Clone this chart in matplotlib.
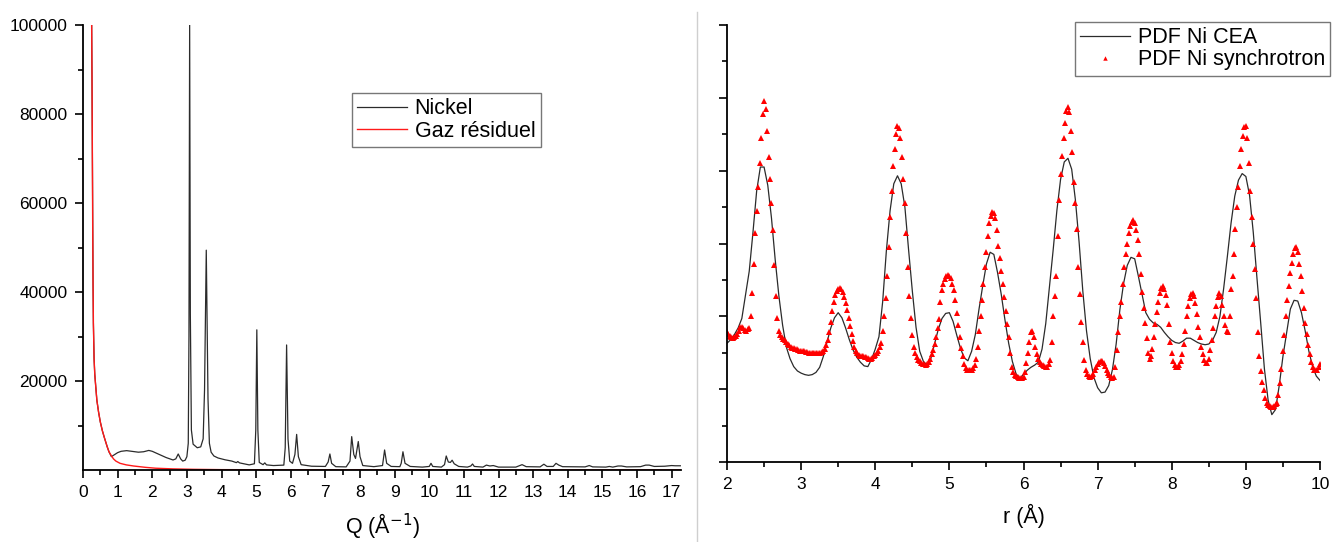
import matplotlib
matplotlib.use("Agg")
import matplotlib.pyplot as plt
from matplotlib.lines import Line2D
from matplotlib.ticker import MultipleLocator, NullFormatter, FixedLocator
import numpy as np

plt.rcParams['font.family'] = ['Liberation Sans', 'DejaVu Sans']

# ---- left panel: raw diffraction, Nickel vs residual gas ----
nickel_q = [0.25, 0.26, 0.27, 0.28, 0.29, 0.30, 0.32, 0.34, 0.36, 0.40,
            0.45, 0.50, 0.56, 0.62, 0.70, 0.75, 0.82, 0.90, 1.00, 1.10,
            1.26, 1.40, 1.60, 1.75, 1.90, 2.00, 2.23, 2.40, 2.60, 2.68,
            2.75, 2.82, 2.88, 2.95, 3.00, 3.04, 3.06, 3.08, 3.10, 3.13,
            3.18, 3.30, 3.40, 3.47, 3.51, 3.56, 3.61, 3.65, 3.70, 3.78,
            3.90, 4.10, 4.30, 4.43, 4.47, 4.52, 4.80, 4.95, 4.99, 5.02,
            5.05, 5.09, 5.20, 5.25, 5.30, 5.50, 5.80, 5.84, 5.88, 5.92,
            5.97, 6.05, 6.12, 6.17, 6.22, 6.30, 6.60, 7.00, 7.08, 7.13,
            7.18, 7.30, 7.60, 7.71, 7.76, 7.82, 7.87, 7.91, 7.95, 8.00,
            8.08, 8.40, 8.65, 8.71, 8.77, 8.90, 9.15, 9.19, 9.24, 9.30,
            9.45, 9.80, 10.00, 10.05, 10.10, 10.35, 10.44, 10.49, 10.55, 10.61,
            10.66, 10.72, 10.85, 11.10, 11.20, 11.25, 11.30, 11.55, 11.65, 11.75,
            11.85, 12.00, 12.50, 12.68, 12.80, 13.20, 13.31, 13.40, 13.58, 13.66,
            13.74, 13.85, 14.50, 14.62, 14.72, 15.10, 15.20, 15.30, 15.45, 15.55,
            15.70, 16.10, 16.25, 16.35, 16.50, 16.80, 17.00, 17.10, 17.25]
nickel_i = [100000, 88000, 72000, 55000, 42000, 33000, 25000, 21500, 19500, 15700,
            13000, 10800, 8800, 7200, 5200, 4100, 3000, 3400, 3900, 4200,
            4350, 4200, 4000, 4100, 4400, 4200, 3400, 2800, 2250, 2500,
            3600, 2500, 2000, 2200, 3000, 6000, 30000, 100000, 35000, 9000,
            5800, 5000, 5200, 7000, 18000, 49400, 16000, 6000, 4000, 3150,
            2700, 2300, 2000, 1650, 1900, 1600, 1150, 1400, 9000, 31500,
            9000, 1700, 1200, 1600, 1150, 1000, 1100, 5000, 28100, 7000,
            2000, 1500, 3500, 8000, 3000, 1200, 850, 800, 1800, 3600,
            1500, 750, 700, 2000, 7500, 3500, 2600, 4500, 6400, 3000,
            1000, 750, 1000, 4500, 1500, 800, 750, 1500, 4100, 1500,
            800, 650, 800, 1500, 800, 650, 1200, 3150, 1800, 1700,
            2200, 1400, 800, 650, 900, 1350, 800, 650, 1100, 900,
            1000, 650, 650, 1200, 750, 700, 1300, 800, 800, 1500,
            1100, 750, 700, 1000, 700, 650, 800, 650, 900, 900,
            700, 750, 1100, 1100, 800, 850, 1000, 950, 950]

gas_q = [0.25, 0.26, 0.27, 0.28, 0.29, 0.30, 0.32, 0.34, 0.36, 0.40,
         0.45, 0.50, 0.56, 0.62, 0.70, 0.75, 0.82, 0.88, 0.95, 1.07,
         1.25, 1.46, 1.80, 2.10, 2.60, 3.20, 4.00, 6.00, 10.00, 17.25]
gas_i = [100000, 88000, 72000, 55000, 42000, 33000, 25000, 21500, 19500, 15700,
         13000, 10800, 8800, 7200, 5200, 4100, 3200, 2500, 2000, 1500,
         1150, 900, 600, 400, 250, 150, 80, 40, 20, 20]

# ---- right panel: PDF G(r) ----
r_cea = np.linspace(2.0, 10.0, 161)   # 0.05 A sampling
g_cea = [1.63, 1.68, 1.75, 1.84, 1.97, 2.30, 2.62, 3.15, 3.72, 4.05,
         4.05, 3.80, 3.35, 2.78, 2.28, 1.88, 1.58, 1.42, 1.31, 1.25,
         1.22, 1.20, 1.19, 1.20, 1.23, 1.30, 1.45, 1.65, 1.84, 1.98,
         2.05, 1.98, 1.84, 1.68, 1.54, 1.44, 1.37, 1.32, 1.31, 1.41,
         1.55, 1.72, 2.20, 2.90, 3.45, 3.82, 3.93, 3.82, 3.50, 2.91,
         2.35, 1.85, 1.52, 1.38, 1.33, 1.42, 1.62, 1.82, 1.97, 2.04,
         2.05, 1.93, 1.74, 1.56, 1.43, 1.39, 1.52, 1.75, 2.10, 2.42,
         2.72, 2.88, 2.85, 2.60, 2.30, 1.95, 1.63, 1.38, 1.21, 1.15,
         1.20, 1.26, 1.30, 1.33, 1.37, 1.55, 1.90, 2.40, 2.91, 3.45,
         3.88, 4.12, 4.17, 4.02, 3.60, 3.02, 2.35, 1.80, 1.42, 1.16,
         1.02, 0.95, 0.96, 1.05, 1.27, 1.62, 2.09, 2.45, 2.70, 2.81,
         2.79, 2.55, 2.30, 2.05, 1.96, 1.91, 1.89, 1.85, 1.78, 1.72,
         1.67, 1.64, 1.63, 1.66, 1.70, 1.70, 1.67, 1.64, 1.62, 1.61,
         1.62, 1.67, 1.78, 2.00, 2.38, 2.82, 3.28, 3.65, 3.87, 3.96,
         3.92, 3.66, 3.15, 2.52, 1.91, 1.28, 0.85, 0.65, 0.72, 1.05,
         1.45, 1.78, 2.10, 2.22, 2.21, 2.05, 1.80, 1.52, 1.31, 1.18,
         1.12]

r_sync = np.linspace(2.0, 10.0, 401)  # 0.02 A sampling
g_sync = [1.79, 1.76, 1.73, 1.71, 1.70, 1.71, 1.73, 1.76, 1.80, 1.85,
          1.86, 1.84, 1.81, 1.80, 1.82, 1.84, 2.00, 2.32, 2.72, 3.14,
          3.45, 3.78, 4.10, 4.45, 4.78, 4.95, 4.85, 4.55, 4.19, 3.88,
          3.55, 3.18, 2.70, 2.28, 1.98, 1.80, 1.75, 1.72, 1.69, 1.67,
          1.65, 1.62, 1.60, 1.58, 1.57, 1.56, 1.55, 1.55, 1.54, 1.53,
          1.53, 1.52, 1.52, 1.51, 1.51, 1.50, 1.50, 1.49, 1.49, 1.49,
          1.49, 1.49, 1.50, 1.50, 1.51, 1.52, 1.55, 1.60, 1.67, 1.78,
          1.92, 2.08, 2.20, 2.29, 2.35, 2.38, 2.39, 2.38, 2.33, 2.26,
          2.18, 2.09, 1.98, 1.87, 1.76, 1.66, 1.58, 1.52, 1.49, 1.47,
          1.46, 1.45, 1.45, 1.44, 1.44, 1.43, 1.42, 1.42, 1.43, 1.45,
          1.47, 1.49, 1.53, 1.58, 1.63, 1.80, 2.00, 2.25, 2.55, 2.95,
          3.37, 3.72, 4.06, 4.30, 4.50, 4.61, 4.58, 4.45, 4.19, 3.88,
          3.55, 3.15, 2.68, 2.28, 1.98, 1.75, 1.58, 1.50, 1.44, 1.40,
          1.38, 1.36, 1.35, 1.34, 1.33, 1.34, 1.37, 1.42, 1.48, 1.54,
          1.62, 1.72, 1.84, 1.97, 2.20, 2.36, 2.45, 2.51, 2.55, 2.57,
          2.56, 2.52, 2.45, 2.36, 2.22, 2.05, 1.88, 1.72, 1.57, 1.45,
          1.35, 1.29, 1.27, 1.26, 1.26, 1.27, 1.29, 1.33, 1.42, 1.58,
          1.80, 2.00, 2.22, 2.45, 2.68, 2.88, 3.10, 3.28, 3.38, 3.43,
          3.42, 3.35, 3.18, 2.96, 2.80, 2.62, 2.45, 2.27, 2.08, 1.90,
          1.72, 1.50, 1.31, 1.24, 1.20, 1.18, 1.17, 1.16, 1.16, 1.16,
          1.17, 1.24, 1.36, 1.50, 1.65, 1.78, 1.80, 1.72, 1.58, 1.48,
          1.41, 1.37, 1.34, 1.33, 1.32, 1.31, 1.31, 1.34, 1.40, 1.65,
          2.00, 2.28, 2.55, 3.10, 3.60, 3.95, 4.20, 4.45, 4.65, 4.82,
          4.88, 4.80, 4.55, 4.25, 3.85, 3.55, 3.20, 2.68, 2.30, 1.92,
          1.65, 1.40, 1.27, 1.21, 1.18, 1.17, 1.18, 1.21, 1.26, 1.31,
          1.35, 1.37, 1.38, 1.38, 1.36, 1.32, 1.27, 1.22, 1.19, 1.17,
          1.15, 1.17, 1.30, 1.54, 1.78, 2.00, 2.20, 2.45, 2.68, 2.86,
          3.00, 3.14, 3.24, 3.30, 3.32, 3.28, 3.18, 3.05, 2.85, 2.58,
          2.33, 2.12, 1.91, 1.70, 1.50, 1.42, 1.45, 1.55, 1.72, 1.90,
          2.06, 2.20, 2.32, 2.39, 2.41, 2.38, 2.29, 2.15, 1.90, 1.65,
          1.50, 1.38, 1.33, 1.31, 1.31, 1.33, 1.38, 1.48, 1.62, 1.80,
          2.00, 2.14, 2.25, 2.31, 2.32, 2.28, 2.18, 2.03, 1.86, 1.72,
          1.58, 1.48, 1.40, 1.36, 1.36, 1.42, 1.54, 1.68, 1.84, 2.00,
          2.14, 2.26, 2.32, 2.28, 2.15, 2.00, 1.88, 1.80, 1.79, 2.00,
          2.38, 2.55, 2.85, 3.20, 3.50, 3.78, 4.06, 4.30, 4.48, 4.60,
          4.62, 4.45, 4.10, 3.72, 3.37, 3.00, 2.65, 2.25, 1.78, 1.45,
          1.25, 1.10, 0.99, 0.88, 0.81, 0.78, 0.77, 0.76, 0.76, 0.77,
          0.79, 0.81, 0.92, 1.08, 1.28, 1.52, 1.75, 2.00, 2.23, 2.42,
          2.60, 2.73, 2.85, 2.94, 2.95, 2.88, 2.72, 2.55, 2.35, 2.12,
          1.91, 1.76, 1.61, 1.48, 1.37, 1.31, 1.27, 1.26, 1.27, 1.30,
          1.34]

W, H = 1333, 542
fig = plt.figure(figsize=(W / 100, H / 100), dpi=100)

ax1 = fig.add_axes([83 / W, 1 - 470 / H, (681 - 83) / W, (470 - 25) / H])
ax2 = fig.add_axes([727 / W, 1 - 462 / H, (1320 - 727) / W, (462 - 25) / H])

for ax in (ax1, ax2):
    ax.spines['top'].set_visible(False)
    ax.spines['right'].set_visible(False)
    ax.spines['left'].set_linewidth(1.3)
    ax.spines['bottom'].set_linewidth(1.3)
    ax.tick_params(which='major', direction='out', length=6, width=1.2,
                   labelsize=12.5, pad=5)
    ax.tick_params(which='minor', direction='out', length=3.5, width=1.2)

# left
ax1.plot(nickel_q, nickel_i, color='#2b2b2b', lw=0.9, label='Nickel')
ax1.plot(gas_q, gas_i, color='#ff1a1a', lw=1.0, label='Gaz résiduel')
ax1.set_xlim(0, 17.27)
ax1.set_ylim(0, 100000)
ax1.xaxis.set_major_locator(MultipleLocator(1))
ax1.xaxis.set_minor_locator(MultipleLocator(0.5))
ax1.yaxis.set_major_locator(FixedLocator([20000, 40000, 60000, 80000, 100000]))
ax1.yaxis.set_minor_locator(FixedLocator([10000, 30000, 50000, 70000, 90000]))
ax1.set_xlabel('Q (Å$^{-1}$)', fontsize=15.5, labelpad=8)
leg1 = ax1.legend(loc='upper left', bbox_to_anchor=(0.45, 0.847), borderaxespad=0,
                  fontsize=15.5, frameon=True, fancybox=False, handlelength=2.3,
                  handletextpad=0.35, borderpad=0.25, labelspacing=0.05)
leg1.get_frame().set_edgecolor('#555555')
leg1.get_frame().set_linewidth(1.0)

# right
ax2.plot(r_cea, g_cea, color='#2b2b2b', lw=0.9, label='PDF Ni CEA')
ax2.plot(r_sync, g_sync, linestyle='none', marker='^', ms=4.0, mew=0,
         color='#ff0000', label='PDF Ni synchrotron')
ax2.set_xlim(2, 10)
ax2.set_ylim(0, 6)
ax2.xaxis.set_major_locator(MultipleLocator(1))
ax2.xaxis.set_minor_locator(MultipleLocator(0.5))
ax2.yaxis.set_major_locator(MultipleLocator(1))
ax2.yaxis.set_minor_locator(MultipleLocator(0.5))
ax2.yaxis.set_major_formatter(NullFormatter())
ax2.set_xlabel('r (Å)', fontsize=15.5, labelpad=8)
leg2 = ax2.legend(loc='upper left', bbox_to_anchor=(0.587, 1.007), borderaxespad=0,
                  fontsize=15.5, frameon=True, fancybox=False, handlelength=2.3,
                  handletextpad=0.35, borderpad=0.25, labelspacing=0.05,
                  markerscale=0.8, numpoints=1)
leg2.get_frame().set_edgecolor('#555555')
leg2.get_frame().set_linewidth(1.0)

# thin separator between the two panels
fig.add_artist(Line2D([697 / W, 697 / W], [0, 1 - 12 / H], color='#cfcfcf', lw=1.0))

fig.savefig('out.png', dpi=100)
